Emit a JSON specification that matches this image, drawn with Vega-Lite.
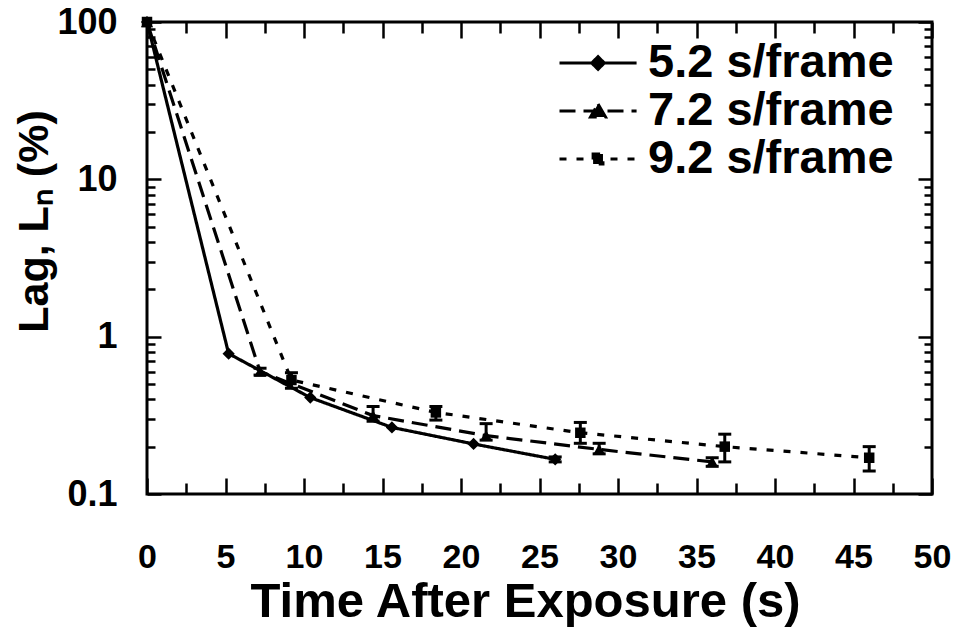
{
  "$schema": "https://vega.github.io/schema/vega-lite/v6.json",
  "width": 785,
  "height": 472,
  "autosize": "none",
  "padding": {"left": 147, "top": 22, "right": 28, "bottom": 139},
  "background": "white",
  "config": {
    "view": {"stroke": "black", "strokeWidth": 3},
    "font": "Liberation Sans",
    "axis": {"domain": false, "grid": false, "tickColor": "black", "tickWidth": 2.5, "labelColor": "black", "titleColor": "black", "labelFont": "Liberation Sans", "titleFont": "Liberation Sans", "labelFontWeight": "bold", "titleFontWeight": "bold", "labelOverlap": false, "labelFlush": false, "labelBound": false}
  },
  "data": {
    "values": [
      {"series": "5.2 s/frame", "t": 0, "lag": 100},
      {"series": "5.2 s/frame", "t": 5.2, "lag": 0.78},
      {"series": "5.2 s/frame", "t": 10.4, "lag": 0.41},
      {"series": "5.2 s/frame", "t": 15.6, "lag": 0.265},
      {"series": "5.2 s/frame", "t": 20.8, "lag": 0.208},
      {"series": "5.2 s/frame", "t": 26.0, "lag": 0.166, "lo": 0.16, "hi": 0.172},
      {"series": "7.2 s/frame", "t": 0, "lag": 100},
      {"series": "7.2 s/frame", "t": 7.2, "lag": 0.6, "lo": 0.57, "hi": 0.63},
      {"series": "7.2 s/frame", "t": 14.4, "lag": 0.315, "lo": 0.29, "hi": 0.36},
      {"series": "7.2 s/frame", "t": 21.6, "lag": 0.235, "lo": 0.22, "hi": 0.28},
      {"series": "7.2 s/frame", "t": 28.8, "lag": 0.192, "lo": 0.18, "hi": 0.21},
      {"series": "7.2 s/frame", "t": 36.0, "lag": 0.16, "lo": 0.15, "hi": 0.17},
      {"series": "9.2 s/frame", "t": 0, "lag": 100},
      {"series": "9.2 s/frame", "t": 9.2, "lag": 0.53, "lo": 0.47, "hi": 0.59},
      {"series": "9.2 s/frame", "t": 18.4, "lag": 0.33, "lo": 0.295, "hi": 0.36},
      {"series": "9.2 s/frame", "t": 27.6, "lag": 0.245, "lo": 0.21, "hi": 0.285},
      {"series": "9.2 s/frame", "t": 36.8, "lag": 0.2, "lo": 0.16, "hi": 0.24},
      {"series": "9.2 s/frame", "t": 46.0, "lag": 0.17, "lo": 0.14, "hi": 0.2}
    ]
  },
  "resolve": {"axis": {"x": "independent", "y": "independent"}},
  "layer": [
    {
      "mark": {"type": "line", "color": "black", "strokeWidth": 3.2},
      "encoding": {
        "x": {"field": "t", "type": "quantitative", "scale": {"domain": [0, 50], "nice": false},
          "axis": {"orient": "bottom", "values": [0,5,10,15,20,25,30,35,40,45,50], "format": "d",
            "offset": -16, "tickSize": 16, "labelFontSize": 34, "labelPadding": 46,
            "title": "Time After Exposure (s)", "titleFontSize": 49, "titlePadding": 3, "titleX": 378}},
        "y": {"field": "lag", "type": "quantitative", "scale": {"type": "log", "domain": [0.1, 100], "nice": false},
          "axis": {"orient": "left", "values": [0.1, 1, 10, 100], "labelExpr": "datum.value >= 1 ? format(datum.value, 'd') : '0.1'",
            "offset": -14, "tickSize": 14, "labelFontSize": 36, "labelPadding": 30,
            "title": "Lag, Lₙ (%)", "titleFontSize": 43, "titlePadding": 0, "titleY": 199}},
        "strokeDash": {"field": "series", "type": "nominal",
          "scale": {"domain": ["5.2 s/frame", "7.2 s/frame", "9.2 s/frame"], "range": [[1, 0], [16, 8], [7, 10]]},
          "legend": {"title": null, "orient": "none", "legendX": 411, "legendY": 16, "padding": 0,
            "labelFontSize": 47, "labelFont": "Liberation Sans", "labelFontWeight": "bold", "labelColor": "black", "labelLimit": 500,
            "symbolSize": 2209, "symbolStrokeWidth": 3, "symbolStrokeColor": "black", "rowPadding": 0, "labelOffset": 40,
            "symbolType": "M-1,0L2.28,0",
            "encode": {"symbols": {"update": {
              "shape": {"signal": "datum.value == '5.2 s/frame' ? 'M-1,0L2.28,0M0.64,-0.27L0.91,0L0.64,0.27L0.37,0Z' : datum.value == '7.2 s/frame' ? 'M-1,0L2.28,0M0.64,-0.3L0.96,0.26L0.32,0.26Z' : 'M-1,0L2.28,0M0.43,-0.21L0.85,-0.21L0.85,0.21L0.43,0.21Z'"},
              "fill": {"value": "black"}, "stroke": {"value": "black"}, "strokeWidth": {"value": 3}}}}}
        }
      }
    },
    {
      "transform": [{"filter": "datum.series == '5.2 s/frame'"}],
      "mark": {"type": "point", "shape": "diamond", "filled": true, "color": "black", "opacity": 1, "size": 150},
      "encoding": {
        "x": {"field": "t", "type": "quantitative",
          "axis": {"orient": "top", "values": [0,5,10,15,20,25,30,35,40,45,50], "labels": false, "title": null, "offset": -16, "tickSize": 16}},
        "y": {"field": "lag", "type": "quantitative",
          "axis": {"orient": "right", "values": [0.1, 1, 10, 100], "labels": false, "title": null, "offset": -14, "tickSize": 14}}
      }
    },
    {
      "transform": [{"filter": "datum.series == '7.2 s/frame'"}],
      "mark": {"type": "point", "shape": "triangle-up", "filled": true, "color": "black", "opacity": 1, "size": 150},
      "encoding": {
        "x": {"field": "t", "type": "quantitative",
          "axis": {"orient": "bottom", "values": [2.5,7.5,12.5,17.5,22.5,27.5,32.5,37.5,42.5,47.5], "labels": false, "title": null, "offset": -11, "tickSize": 11}},
        "y": {"field": "lag", "type": "quantitative",
          "axis": {"orient": "left", "values": [0.2,0.3,0.4,0.5,0.6,0.7,0.8,0.9,2,3,4,5,6,7,8,9,20,30,40,50,60,70,80,90], "labels": false, "title": null, "offset": -8, "tickSize": 8}}
      }
    },
    {
      "transform": [{"filter": "datum.series == '9.2 s/frame'"}],
      "mark": {"type": "point", "shape": "square", "filled": true, "color": "black", "opacity": 1, "size": 110},
      "encoding": {
        "x": {"field": "t", "type": "quantitative",
          "axis": {"orient": "top", "values": [2.5,7.5,12.5,17.5,22.5,27.5,32.5,37.5,42.5,47.5], "labels": false, "title": null, "offset": -11, "tickSize": 11}},
        "y": {"field": "lag", "type": "quantitative",
          "axis": {"orient": "right", "values": [0.2,0.3,0.4,0.5,0.6,0.7,0.8,0.9,2,3,4,5,6,7,8,9,20,30,40,50,60,70,80,90], "labels": false, "title": null, "offset": -8, "tickSize": 8}}
      }
    },
    {
      "transform": [{"filter": "isValid(datum.lo)"}],
      "mark": {"type": "rule", "color": "black", "strokeWidth": 3},
      "encoding": {
        "x": {"field": "t", "type": "quantitative", "axis": null},
        "y": {"field": "lo", "type": "quantitative", "axis": null},
        "y2": {"field": "hi"}
      }
    },
    {
      "transform": [{"filter": "isValid(datum.lo)"}],
      "mark": {"type": "tick", "color": "black", "orient": "horizontal", "size": 13, "thickness": 3, "opacity": 1},
      "encoding": {
        "x": {"field": "t", "type": "quantitative", "axis": null},
        "y": {"field": "lo", "type": "quantitative", "axis": null}
      }
    },
    {
      "transform": [{"filter": "isValid(datum.hi)"}],
      "mark": {"type": "tick", "color": "black", "orient": "horizontal", "size": 13, "thickness": 3, "opacity": 1},
      "encoding": {
        "x": {"field": "t", "type": "quantitative", "axis": null},
        "y": {"field": "hi", "type": "quantitative", "axis": null}
      }
    }
  ]
}
